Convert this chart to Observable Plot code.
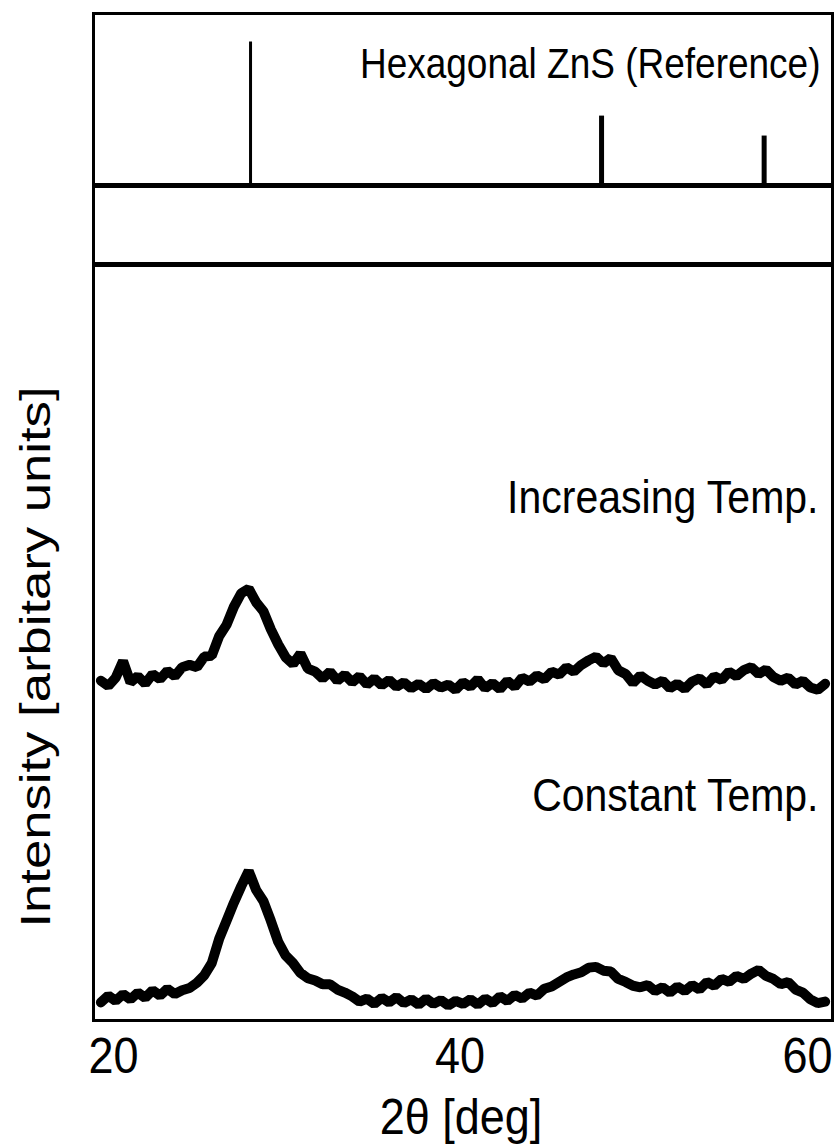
<!DOCTYPE html>
<html>
<head>
<meta charset="utf-8">
<script src="https://cdn.jsdelivr.net/npm/d3@7"></script>
<script src="https://cdn.jsdelivr.net/npm/@observablehq/plot@0.6"></script>
<style>
html, body { margin: 0; padding: 0; background: #fff; }
#chart { width: 836px; }
#chart svg { display: block; }
</style>
</head>
<body>
<div id="chart"></div>
<script>
// ---- Data ----
const twoTheta = [
  20.4, 20.8, 21.2, 21.6, 22.0, 22.4, 22.8, 23.2, 23.6, 24.0,
  24.4, 24.8, 25.2, 25.6, 26.0, 26.4, 26.8, 27.2, 27.6, 28.0,
  28.4, 28.8, 29.2, 29.6, 30.0, 30.4, 30.8, 31.2, 31.6, 32.0,
  32.4, 32.8, 33.2, 33.6, 34.0, 34.4, 34.8, 35.2, 35.6, 36.0,
  36.4, 36.8, 37.2, 37.6, 38.0, 38.4, 38.8, 39.2, 39.6, 40.0,
  40.4, 40.8, 41.2, 41.6, 42.0, 42.4, 42.8, 43.2, 43.6, 44.0,
  44.4, 44.8, 45.2, 45.6, 46.0, 46.4, 46.8, 47.2, 47.6, 48.0,
  48.4, 48.8, 49.2, 49.6, 50.0, 50.4, 50.8, 51.2, 51.6, 52.0,
  52.4, 52.8, 53.2, 53.6, 54.0, 54.4, 54.8, 55.2, 55.6, 56.0,
  56.4, 56.8, 57.2, 57.6, 58.0, 58.4, 58.8, 59.2, 59.6
];
const increasingTemp = [
  45.0, 44.3, 45.4, 47.6, 44.8, 45.6, 44.6, 45.9, 45.2, 46.3,
  45.6, 46.8, 47.1, 46.8, 48.2, 48.3, 50.9, 52.4, 54.8, 56.6,
  57.2, 55.4, 54.2, 51.8, 49.8, 48.1, 47.2, 48.6, 46.6, 46.2,
  45.3, 46.2, 45.0, 45.8, 44.8, 45.6, 44.5, 45.3, 44.4, 45.1,
  44.2, 44.8, 44.0, 44.6, 43.9, 44.7, 44.1, 44.5, 43.8, 44.8,
  44.2, 45.2, 44.0, 44.7, 43.9, 45.0, 44.2, 45.4, 44.9, 45.7,
  45.2, 46.2, 45.8, 46.8, 46.2, 47.1, 47.7, 48.2, 47.3, 48.0,
  46.4, 45.9, 44.7, 45.7, 45.0, 44.5, 45.0, 44.0, 44.6, 43.9,
  44.9, 45.3, 44.5, 45.6, 45.1, 46.2, 45.6, 46.4, 46.8, 45.9,
  46.5, 45.5, 45.0, 45.4, 44.5, 45.0, 44.1, 43.8, 44.6
];
const constantTemp = [
  2.4, 3.3, 2.6, 3.5, 2.8, 3.7, 3.0, 4.0, 3.3, 4.2,
  3.5, 4.0, 4.3, 5.0, 6.0, 7.6, 10.8, 13.2, 15.6, 17.8,
  19.8, 17.3, 15.8, 13.2, 10.4, 8.6, 7.6, 6.3, 5.6, 5.3,
  4.8, 4.8, 4.1, 3.7, 3.2, 2.5, 2.9, 2.2, 3.0, 2.4,
  3.1, 2.3, 2.8, 2.1, 2.9, 2.2, 2.7, 2.0, 2.6, 2.2,
  2.8, 2.1, 2.9, 2.3, 3.2, 2.6, 3.4, 2.9, 3.7, 3.3,
  4.2, 4.5, 5.1, 5.7, 6.1, 6.4, 7.0, 7.1, 6.6, 6.5,
  5.5, 5.1, 4.6, 4.4, 4.7, 3.9, 4.4, 3.7, 4.5, 3.9,
  4.7, 4.1, 5.1, 4.6, 5.5, 5.1, 5.9, 5.5, 6.2, 6.7,
  5.9, 5.5, 4.8, 5.1, 4.1, 3.7, 2.8, 2.3, 2.5
];
const refPeakAngles = [28.5, 47.5, 56.3];
const refPeakIntensity = [100, 48, 34];
const xTicks = [20, 40, 60];
const refLabel = "Hexagonal ZnS (Reference)";
const seriesLabels = ["Increasing Temp.", "Constant Temp."];
const xLabel = "2θ [deg]";
const yLabel = "Intensity [arbitary units]";

// ---- Tables built from the arrays ----
const incData = twoTheta.map((a, i) => ({angle: a, intensity: increasingTemp[i]}));
const conData = twoTheta.map((a, i) => ({angle: a, intensity: constantTemp[i]}));
const refData = refPeakAngles.map((a, i) => ({angle: a, intensity: refPeakIntensity[i]}));

const W = 836, ML = 93, MR = 4;
const FONT = "'Liberation Sans', Arial, Helvetica, sans-serif";
const baseStyle = {fontFamily: FONT, background: "white", color: "black", overflow: "visible"};

const refPanel = Plot.plot({
  width: W, height: 185,
  marginLeft: ML, marginRight: MR, marginTop: 13, marginBottom: 1,
  x: {domain: [20, 60], axis: null},
  y: {domain: [0, 120], axis: null},
  style: baseStyle,
  marks: [
    Plot.ruleX(refData, {x: "angle", y1: 0, y2: "intensity", filter: (d, i) => i === 0, stroke: "black", strokeWidth: 3}),
    Plot.ruleX(refData, {x: "angle", y1: 0, y2: "intensity", filter: (d, i) => i > 0, stroke: "black", strokeWidth: 5}),
    Plot.text([refLabel], {frameAnchor: "top-right", textAnchor: "end", lineAnchor: "middle", dx: -12, dy: 64, fontSize: 37, fill: "black"}),
    Plot.frame({stroke: "black", strokeWidth: 3})
  ]
});

const midPanel = Plot.plot({
  width: W, height: 79,
  marginLeft: ML, marginRight: MR, marginTop: 1, marginBottom: 1,
  x: {domain: [20, 60], axis: null},
  y: {domain: [0, 1], axis: null},
  style: baseStyle,
  marks: [
    Plot.frame({stroke: "black", strokeWidth: 3})
  ]
});

const mainPanel = Plot.plot({
  width: W, height: 883,
  marginLeft: ML, marginRight: MR, marginTop: 1, marginBottom: 127,
  x: {domain: [20, 60], axis: null},
  y: {domain: [0, 100], axis: null},
  style: baseStyle,
  marks: [
    Plot.line(incData, {x: "angle", y: "intensity", stroke: "black", strokeWidth: 10, strokeLinejoin: "bevel"}),
    Plot.line(conData, {x: "angle", y: "intensity", stroke: "black", strokeWidth: 10, strokeLinejoin: "bevel"}),
    Plot.text([seriesLabels[0]], {frameAnchor: "top-right", textAnchor: "end", lineAnchor: "middle", dx: -14, dy: 247, fontSize: 41, fill: "black"}),
    Plot.text([seriesLabels[1]], {frameAnchor: "top-right", textAnchor: "end", lineAnchor: "middle", dx: -14, dy: 545, fontSize: 41, fill: "black"}),
    Plot.text(xTicks, {filter: d => d === 20, x: d => d, text: d => String(d), frameAnchor: "bottom", textAnchor: "start", lineAnchor: "middle", dx: -5, dy: 52, fontSize: 45, fill: "black"}),
    Plot.text(xTicks, {filter: d => d === 40, x: d => d, text: d => String(d), frameAnchor: "bottom", textAnchor: "middle", lineAnchor: "middle", dx: -3, dy: 52, fontSize: 45, fill: "black"}),
    Plot.text(xTicks, {filter: d => d === 60, x: d => d, text: d => String(d), frameAnchor: "bottom", textAnchor: "end", lineAnchor: "middle", dx: 0, dy: 52, fontSize: 45, fill: "black"}),
    Plot.text([xLabel], {frameAnchor: "bottom", textAnchor: "middle", lineAnchor: "middle", dx: -2, dy: 113, fontSize: 45, fill: "black"}),
    Plot.text([yLabel], {frameAnchor: "left", textAnchor: "middle", lineAnchor: "middle", rotate: -90, dx: -57, dy: 14, fontSize: 47, fill: "black"}),
    Plot.frame({stroke: "black", strokeWidth: 3})
  ]
});

const chart = document.getElementById("chart");
chart.appendChild(refPanel);
chart.appendChild(midPanel);
chart.appendChild(mainPanel);

// The scanned original is slightly stretched vertically: mimic it on the texts
// with SVG transform attributes (scale about each text's own anchor point).
const horizontalTexts = new Set([refLabel, ...seriesLabels, xLabel, ...xTicks.map(String)]);
d3.selectAll("#chart text").each(function () {
  const t = d3.select(this);
  const s = this.textContent;
  const tr = t.attr("transform") || "";
  if (s === yLabel) {
    t.attr("transform", `${tr} scale(1.12,0.92)`);
  } else if (horizontalTexts.has(s)) {
    const x = +t.attr("x") || 0, y = +t.attr("y") || 0;
    t.attr("x", null).attr("y", null)
     .attr("transform", `${tr} translate(${x},${y}) scale(1,1.13)`);
  }
});
</script>
</body>
</html>
